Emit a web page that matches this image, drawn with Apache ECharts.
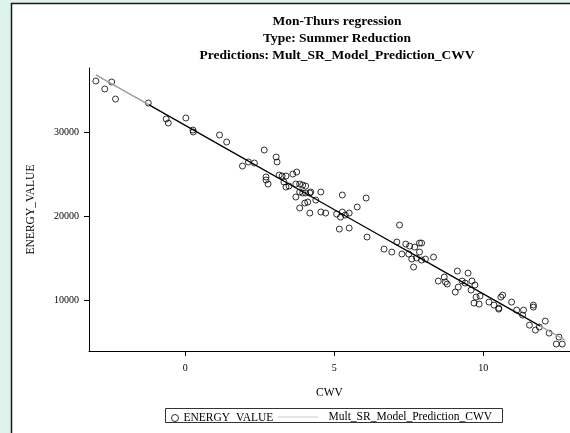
<!DOCTYPE html>
<html>
<head>
<meta charset="utf-8">
<script src="https://cdn.jsdelivr.net/npm/echarts@6/dist/echarts.min.js"></script>
<style>
  html, body { margin: 0; padding: 0; background: #ddf3eb; }
  #chart { width: 570px; height: 433px; }
</style>
</head>
<body>
<div id="chart"></div>
<script>
// Observed points: CWV vs ENERGY_VALUE
const cwv = [
  -3.00, -2.70, -2.47, -2.34, -1.24, -0.64, -0.57, 0.02, 0.26, 0.27,
  1.15, 1.39, 1.92, 2.12, 2.32, 2.65, 3.05, 3.08, 2.71, 2.71,
  2.78, 3.15, 3.25, 3.38, 3.61, 3.74, 3.31, 3.38, 3.48, 3.71,
  3.84, 3.94, 4.04, 3.71, 3.84, 3.94, 4.04, 4.18, 4.21, 4.01,
  4.11, 3.84, 4.38, 4.55, 4.18, 4.55, 4.71, 5.27, 5.08, 5.21,
  5.27, 5.50, 5.37, 5.17, 5.50, 5.77, 6.07, 6.10, 7.19, 6.67,
  6.93, 7.10, 7.27, 7.40, 7.53, 7.70, 7.86, 7.93, 7.50, 7.60,
  7.76, 7.86, 7.93, 8.06, 7.66, 8.33, 8.49, 8.69, 8.73, 8.79,
  9.13, 9.06, 9.16, 9.29, 9.39, 9.49, 9.62, 9.59, 9.72, 9.76,
  9.89, 9.69, 9.86, 10.19, 10.36, 10.52, 10.52, 10.59, 10.65, 10.95,
  11.12, 11.35, 11.32, 11.68, 11.68, 12.08, 11.55, 11.75, 11.88, 12.21,
  12.54, 12.45, 12.65
];
const energy = [
  36120, 35170, 36000, 33970, 33500, 31590, 31110, 31710, 30270, 30040,
  29680, 28840, 25980, 26460, 26340, 27890, 27050, 26460, 24670, 24310,
  23830, 24900, 24790, 24790, 25020, 25260, 24070, 23470, 23590, 23830,
  23830, 23710, 23590, 22280, 22880, 22760, 22760, 22760, 22880, 21560,
  21680, 20970, 21920, 22880, 20370, 20490, 20370, 22520, 20250, 19890,
  20490, 20370, 20130, 18460, 18580, 21090, 22160, 17510, 18940, 16070,
  15720, 16910, 15480, 16670, 16430, 16310, 16790, 16790, 15480, 14880,
  15000, 15720, 14760, 14880, 13930, 15120, 12260, 12730, 12140, 11900,
  13450, 10940, 11540, 12260, 12020, 13210, 12260, 11180, 11780, 10350,
  10470, 9630, 9510, 9750, 9390, 9030, 8910, 10350, 10580, 9750,
  8790, 8790, 8200, 9390, 9150, 7480, 7000, 6410, 6770, 6050,
  5570, 4740, 4740
];

// Model prediction along CWV
const predCwv = [-3.00, -1.20, 0.00, 2.00, 4.00, 6.00, 8.00, 10.00, 11.90, 12.75];
const predEnergy = [36860, 33240, 30830, 26810, 22790, 18770, 14750, 10730, 6910, 5200];

// Axis ticks
const xTicks = [0, 5, 10];
const yTicks = [10000, 20000, 30000];

const titleLines = [
  'Mon-Thurs regression',
  'Type: Summer Reduction',
  'Predictions: Mult_SR_Model_Prediction_CWV'
];

const FONT = '"Liberation Serif", "DejaVu Serif", serif';

const scatterData = cwv.map((x, i) => [x, energy[i]]);
const predData = predCwv.map((x, i) => [x, predEnergy[i]]);

const chart = echarts.init(document.getElementById('chart'), null, { renderer: 'canvas' });

chart.setOption({
  backgroundColor: '#ddf3eb',
  animation: false,
  graphic: [{
    type: 'rect',
    z: -10,
    silent: true,
    shape: { x: 11.5, y: 3.5, width: 620, height: 500 },
    style: { fill: '#ffffff', stroke: '#1a1a1a', lineWidth: 1.5 }
  }, {
    type: 'rect',
    z: 10,
    silent: true,
    shape: { x: 165.5, y: 408.5, width: 337, height: 14 },
    style: { fill: 'none', stroke: '#333333', lineWidth: 1 }
  }],
  title: {
    text: titleLines.join('\n'),
    left: 332,
    top: 8,
    textAlign: 'center',
    textStyle: {
      fontFamily: FONT,
      fontSize: 13.5,
      fontWeight: 'bold',
      color: '#000',
      lineHeight: 17
    }
  },
  legend: [{
    left: 171,
    top: 412,
    padding: 0,
    itemWidth: 7,
    itemHeight: 7,
    selectedMode: false,
    textStyle: { fontFamily: FONT, fontSize: 11.5, color: '#000' },
    data: [{
      name: 'ENERGY_VALUE',
      icon: 'circle',
      itemStyle: { color: '#ffffff', borderColor: '#000', borderWidth: 1 }
    }]
  }, {
    left: 278,
    top: 411,
    padding: 0,
    itemWidth: 40,
    itemHeight: 8,
    selectedMode: false,
    textStyle: { fontFamily: FONT, fontSize: 11.5, color: '#000', padding: [0, 0, 0, 5] },
    data: [{
      name: 'Mult_SR_Model_Prediction_CWV',
      lineStyle: { color: '#9a9a9a', type: 'dotted', width: 1 },
      itemStyle: { opacity: 0 }
    }]
  }],
  grid: { left: 89, top: 68, width: 486, height: 283, containLabel: false },
  xAxis: {
    type: 'value',
    min: -3.23,
    max: 12.91,
    name: 'CWV',
    nameLocation: 'middle',
    nameGap: 36,
    nameTextStyle: { fontFamily: FONT, fontSize: 11.5, color: '#000' },
    axisLine: { show: true, onZero: false, lineStyle: { color: '#000', width: 1 } },
    axisTick: { show: true, customValues: xTicks, length: 5, lineStyle: { color: '#000' } },
    axisLabel: { customValues: xTicks, margin: 12, fontFamily: FONT, fontSize: 10, color: '#000' },
    splitLine: { show: false }
  },
  yAxis: {
    type: 'value',
    min: 3914,
    max: 37673,
    name: 'ENERGY_VALUE',
    nameLocation: 'middle',
    nameRotate: 90,
    nameGap: 52,
    nameTextStyle: { fontFamily: FONT, fontSize: 11.5, color: '#000' },
    axisLine: { show: true, onZero: false, lineStyle: { color: '#000', width: 1 } },
    axisTick: { show: true, customValues: yTicks, length: 5, lineStyle: { color: '#000' } },
    axisLabel: {
      customValues: yTicks,
      margin: 10,
      fontFamily: FONT,
      fontSize: 10,
      color: '#000',
      formatter: v => String(v)
    },
    splitLine: { show: false }
  },
  visualMap: {
    type: 'piecewise',
    show: false,
    seriesIndex: 1,
    dimension: 0,
    pieces: [
      { lt: -1.2, color: '#9a9a9a' },
      { gte: -1.2, lte: 11.9, color: '#000000' },
      { gt: 11.9, color: '#9a9a9a' }
    ]
  },
  series: [{
    name: 'ENERGY_VALUE',
    type: 'scatter',
    symbol: 'circle',
    symbolSize: 6,
    itemStyle: { color: 'rgba(0,0,0,0)', borderColor: '#000', borderWidth: 1 },
    data: scatterData,
    z: 2
  }, {
    name: 'Mult_SR_Model_Prediction_CWV',
    type: 'line',
    symbol: 'none',
    lineStyle: { width: 1.3 },
    data: predData,
    z: 3
  }]
});
</script>
</body>
</html>
